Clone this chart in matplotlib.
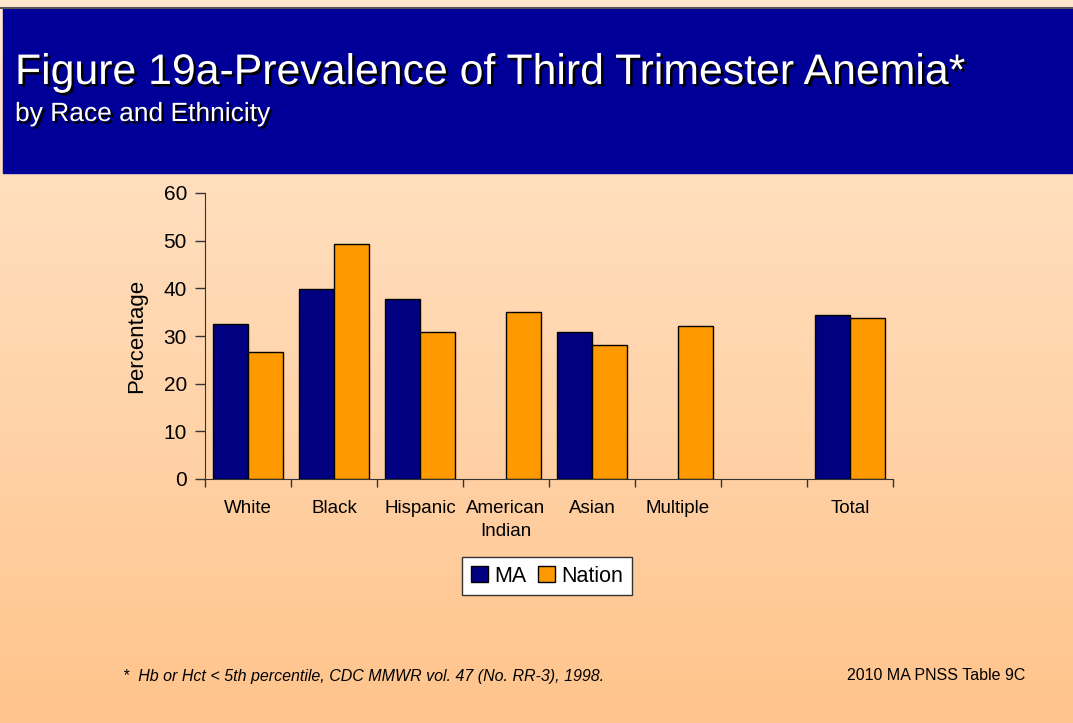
import numpy as np
import matplotlib
matplotlib.use("Agg")
import matplotlib.pyplot as plt
import matplotlib.patheffects as pe

plt.rcParams["font.family"] = ["Liberation Sans", "DejaVu Sans"]

categories = ["White", "Black", "Hispanic", "American\nIndian", "Asian", "Multiple", "", "Total"]
ma = [32.6, 39.9, 37.7, np.nan, 30.9, np.nan, np.nan, 34.5]
nation = [26.7, 49.4, 30.9, 35.1, 28.2, 32.2, np.nan, 33.8]
yticks = [0, 10, 20, 30, 40, 50, 60]

fig = plt.figure(figsize=(10.73, 7.23), dpi=100)

# background gradient + blue header
bg = fig.add_axes([0, 0, 1, 1])
top = np.array([255, 231, 207]) / 255
bot = np.array([255, 196, 140]) / 255
t = np.linspace(0, 1, 256)[:, None]
grad = top + (bot - top) * t
bg.imshow(grad[:, None, :], aspect="auto", extent=[0, 1, 0, 1])
bg.add_patch(plt.Rectangle((0.003, 1 - 173 / 723), 0.997, 165 / 723, color="#000099"))
bg.plot([0, 1], [1 - 8 / 723, 1 - 8 / 723], color="#555555", lw=1.5)
bg.set_xlim(0, 1)
bg.set_ylim(0, 1)
bg.axis("off")

shadow = [pe.SimplePatchShadow(offset=(1.8, -1.8), shadow_rgbFace="black", alpha=1), pe.Normal()]
fig.text(15 / 1073, 1 - 84 / 723, "Figure 19a-Prevalence of Third Trimester Anemia*",
         color="white", fontsize=30.8, va="baseline", path_effects=shadow)
fig.text(15 / 1073, 1 - 121 / 723, "by Race and Ethnicity",
         color="white", fontsize=19, va="baseline", path_effects=shadow)

ax = fig.add_axes([205 / 1073, 1 - 479 / 723, 688 / 1073, 286 / 723])
ax.patch.set_alpha(0)
x = np.arange(len(categories))
w = 0.405
ax.bar(x - w / 2, ma, w, color="#000080", edgecolor="black", lw=1, label="MA")
ax.bar(x + w / 2, nation, w, color="#FF9900", edgecolor="black", lw=1, label="Nation")

ax.set_xlim(-0.5, len(categories) - 0.5)
ax.set_ylim(0, 60)
ax.set_yticks(yticks)
ax.tick_params(axis="y", labelsize=15, length=7, width=1, color="#333333", pad=6)
ax.set_xticks(x)
ax.set_xticklabels(categories, fontsize=13.5, linespacing=1.45)
ax.tick_params(axis="x", length=0, pad=15)
ax.set_xticks(np.arange(len(categories) + 1) - 0.5, minor=True)
ax.tick_params(axis="x", which="minor", length=6, width=1, color="#333333")
ax.set_ylabel("Percentage", fontsize=16, labelpad=12)
for s in ["top", "right"]:
    ax.spines[s].set_visible(False)
for s in ["left", "bottom"]:
    ax.spines[s].set_color("#333333")

leg = ax.legend(loc="center", bbox_to_anchor=(547 / 1073, 1 - 576 / 723),
                bbox_transform=fig.transFigure, ncol=2, fontsize=15.5, frameon=True,
                fancybox=False, handlelength=0.8, handleheight=0.8, handletextpad=0.3,
                columnspacing=0.5, borderpad=0.4, borderaxespad=0)
leg.get_frame().set_edgecolor("#333333")
leg.get_frame().set_facecolor("white")
leg.get_frame().set_alpha(1)

fig.text(123 / 1073, 1 - 676 / 723, "*  Hb or Hct < 5th percentile, CDC MMWR vol. 47 (No. RR-3), 1998.",
         fontsize=11.5, style="italic", va="center")
fig.text(1025 / 1073, 1 - 676 / 723, "2010 MA PNSS Table 9C", fontsize=11.5, ha="right", va="center")

fig.savefig("out.png", dpi=100)
